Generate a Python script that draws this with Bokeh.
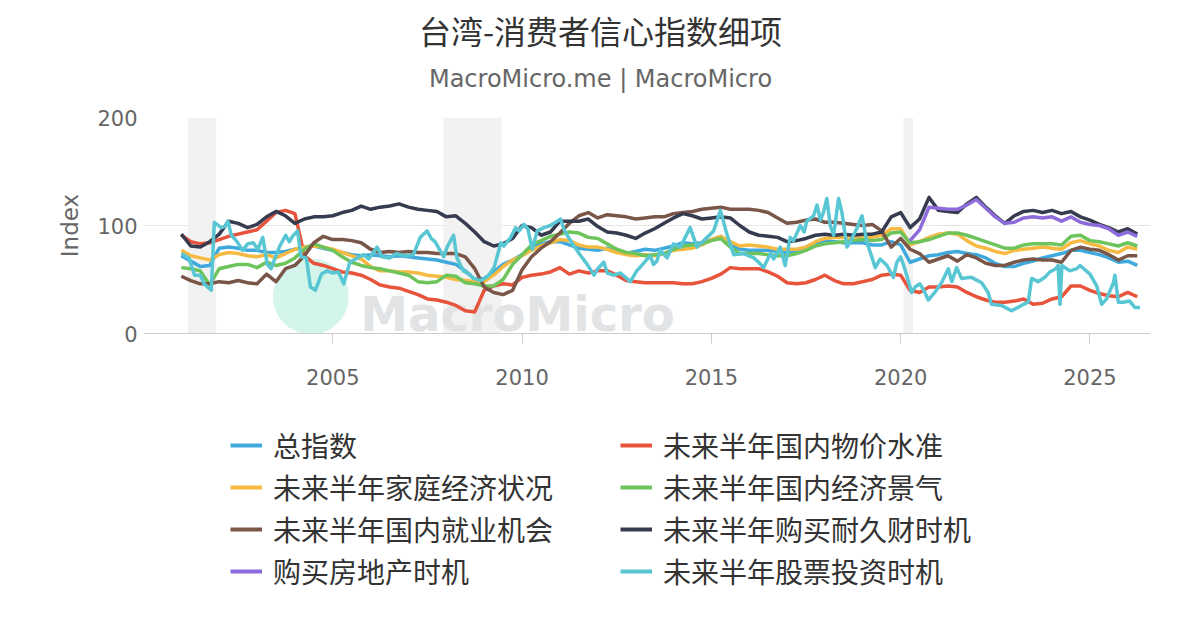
from bokeh.plotting import figure
from bokeh.layouts import column
from bokeh.models import (Range1d, FixedTicker, BoxAnnotation, Legend, LegendItem, Label)
from bokeh.embed import file_html
from bokeh.resources import INLINE

# ---------------- data (quarterly, first point = 2001 Q1) ----------------
first_quarter = 2001.0
quarter_step = 0.25

total_index = [
    72, 67, 62, 63,   79, 80, 79, 77,   77, 75, 75, 76,   78, 80, 81, 79,
    77, 75, 73, 72,   73, 72, 71, 72,   71, 70, 69, 68,   66, 64, 58, 50,
    51, 57, 64, 68,   73, 79, 83, 85,   85, 82, 79, 78,   77, 79, 76, 74,
    76, 78, 77, 79,   81, 84, 83, 84,   87, 90, 82, 78,   77, 77, 77, 76,
    75, 77, 80, 84,   86, 85, 84, 84,   84, 82, 82, 85,   82, 66, 69, 72,
    73, 75, 76, 74,   73, 70, 65, 62,   62, 65, 67, 70,   72, 74, 77, 77,
    75, 73, 70, 66,   67, 63]
prices = [
    91, 85, 83, 84,   87, 90, 92, 94,   96, 104, 112, 114, 111, 72, 65, 63,
    60, 57, 56, 54,   50, 45, 43, 42,   39, 36, 32, 31,   29, 26, 21, 20,
    40, 44, 46, 45,   52, 54, 55, 57,   61, 55, 58, 56,   58, 58, 54, 49,
    48, 47, 47, 47,   47, 46, 46, 48,   51, 55, 61, 60,   60, 60, 57, 53,
    47, 46, 47, 50,   54, 49, 46, 46,   48, 50, 54, 55,   54, 40, 38, 43,
    43, 44, 43, 38,   34, 31, 29, 29,   30, 32, 27, 28,   32, 34, 44, 44,
    40, 37, 35, 34,   38, 34]
household = [
    77, 72, 70, 68,   73, 75, 74, 72,   71, 73, 70, 74,   78, 80, 81, 80,
    78, 75, 72, 69,   62, 58, 58, 57,   57, 56, 54, 53,   52, 50, 49, 48,
    48, 54, 62, 68,   72, 77, 81, 84,   87, 86, 82, 80,   80, 78, 75, 73,
    72, 73, 72, 74,   77, 78, 79, 82,   87, 90, 85, 81,   82, 81, 80, 78,
    78, 78, 80, 85,   88, 89, 89, 88,   89, 89, 91, 97,   97, 82, 85, 89,
    92, 93, 92, 86,   81, 79, 76, 74,   77, 78, 79, 80,   79, 78, 84, 86,
    83, 81, 77, 75,   80, 78]
economy = [
    61, 60, 58, 45,   60, 62, 64, 64,   61, 66, 63, 65,   70, 78, 83, 80,
    77, 71, 66, 63,   61, 60, 58, 56,   54, 48, 47, 48,   54, 53, 47, 46,
    44, 44, 50, 64,   73, 82, 86, 90,   92, 94, 93, 89,   88, 83, 78, 75,
    74, 72, 73, 74,   78, 81, 82, 83,   86, 88, 80, 74,   74, 74, 73, 72,
    72, 74, 77, 81,   83, 84, 85, 86,   87, 86, 87, 93,   94, 84, 85, 87,
    90, 93, 93, 91,   88, 85, 82, 79,   79, 82, 83, 83,   83, 82, 90, 91,
    86, 85, 83, 81,   84, 81]
jobs = [
    53, 49, 46, 46,   48, 47, 49, 47,   46, 55, 48, 60,   63, 72, 84, 90,
    87, 87, 86, 84,   78, 75, 76, 75,   76, 75, 75, 74,   74, 74, 71, 60,
    43, 38, 36, 40,   59, 71, 79, 85,   93, 102, 109, 112, 107, 110, 109, 108,
    106, 107, 108, 108, 111, 112, 113, 115, 116, 117, 115, 115, 115, 114, 112, 107,
    102, 103, 105, 106, 103, 103, 102, 101, 100, 101, 95, 80, 88, 78, 74, 66,
    69, 72, 67, 73,   70, 65, 63, 63,   66, 68, 69, 68,   68, 66, 77, 80,
    78, 77, 73, 68,   72, 72]
durables = [
    92, 81, 80, 85,   92, 104, 102, 98, 101, 108, 113, 109, 102, 106, 108, 108,
    109, 112, 114, 118, 115, 117, 118, 120, 117, 115, 114, 113, 108, 109, 102, 94,
    85, 81, 83, 88,   100, 98, 91, 94,  104, 104, 104, 106, 99, 94, 93, 91,
    88, 93, 97, 102,  107, 111, 109, 106, 107, 108, 107, 100, 94, 91, 90, 89,
    85, 86, 88, 91,   92, 91, 92, 91,   92, 92, 94, 108,  112, 98, 106, 126,
    114, 113, 112, 120, 126, 117, 109, 102, 109, 113, 114, 112, 114, 111, 113, 108,
    105, 101, 98, 94,  97, 92]
realestate_start = 2020.25
realestate = [
    86, 96, 117,
    116, 115, 115, 119, 124, 116, 108, 102, 103, 107, 108, 107,
    108, 104, 108, 103, 101, 100, 97, 91,  94, 90]
stocks_t = [
    2001.0, 2001.1, 2001.2, 2001.35, 2001.5, 2001.6, 2001.79, 2001.87, 2002.05, 2002.15,
    2002.23, 2002.32, 2002.45, 2002.62, 2002.75, 2002.9, 2003.02, 2003.15, 2003.27, 2003.37,
    2003.5, 2003.6, 2003.76, 2003.85, 2003.94, 2004.07, 2004.16, 2004.3, 2004.41, 2004.54,
    2004.7, 2004.85, 2005.0, 2005.15, 2005.29, 2005.45, 2005.6, 2005.81, 2005.95, 2006.17,
    2006.3, 2006.5, 2006.69, 2006.9, 2007.13, 2007.31, 2007.49, 2007.6, 2007.7, 2007.93,
    2008.02, 2008.19, 2008.28, 2008.45, 2008.6, 2008.72, 2008.91, 2009.1, 2009.26, 2009.44,
    2009.52, 2009.7, 2009.83, 2009.92, 2010.05, 2010.15, 2010.27, 2010.4, 2010.58, 2010.75,
    2010.93, 2011.02, 2011.1, 2011.19, 2011.37, 2011.55, 2011.72, 2011.9, 2012.0, 2012.16,
    2012.25, 2012.42, 2012.6, 2012.86, 2013.03, 2013.21, 2013.38, 2013.47, 2013.56, 2013.65,
    2013.83, 2014.0, 2014.18, 2014.44, 2014.62, 2014.8, 2015.06, 2015.24, 2015.41, 2015.59,
    2015.85, 2016.12, 2016.25, 2016.38, 2016.56, 2016.65, 2016.82, 2016.95, 2017.08, 2017.17,
    2017.35, 2017.45, 2017.52, 2017.7, 2017.79, 2017.88, 2017.96, 2018.05, 2018.14, 2018.23,
    2018.36, 2018.45, 2018.58, 2018.67, 2018.84, 2018.98, 2019.11, 2019.2, 2019.33, 2019.46,
    2019.64, 2019.81, 2019.9, 2020.0, 2020.08, 2020.16, 2020.29, 2020.38, 2020.51, 2020.64,
    2020.73, 2020.9, 2021.08, 2021.26, 2021.35, 2021.48, 2021.61, 2021.87, 2022.14, 2022.31,
    2022.4, 2022.66, 2022.93, 2023.19, 2023.37, 2023.46, 2023.63, 2023.81, 2023.94, 2024.1,
    2024.16, 2024.21, 2024.26, 2024.47, 2024.65, 2024.74, 2025.0, 2025.18, 2025.31, 2025.44,
    2025.62, 2025.66, 2025.75, 2025.88, 2026.05, 2026.19, 2026.32]
stocks_v = [
    74, 72, 70, 54, 54, 46, 40, 103, 98, 99,
    104, 91, 86, 77, 83, 84, 78, 89, 64, 60,
    72, 81, 91, 85, 90, 95, 71, 70, 43, 40,
    55, 58, 56, 57, 46, 66, 69, 73, 69, 80,
    71, 70, 74, 72, 73, 89, 95, 88, 85, 71,
    80, 91, 70, 58, 55, 51, 49, 53, 61, 84,
    81, 89, 98, 95, 101, 97, 78, 95, 98, 100,
    104, 106, 97, 91, 81, 72, 64, 54, 60, 66,
    56, 54, 56, 48, 58, 65, 72, 64, 67, 77,
    70, 83, 80, 98, 80, 86, 95, 114, 92, 73,
    74, 70, 66, 61, 74, 69, 80, 63, 89, 86,
    100, 94, 104, 109, 119, 105, 112, 125, 100, 91,
    125, 112, 80, 85, 97, 109, 84, 75, 61, 69,
    63, 52, 66, 71, 63, 54, 38, 43, 46, 38,
    31, 38, 47, 60, 48, 61, 51, 52, 47, 38,
    27, 26, 21, 26, 29, 51, 48, 52, 57, 60,
    63, 27, 63, 58, 60, 63, 55, 44, 27, 32,
    47, 54, 29, 29, 30, 24, 24]

series_names = ["总指数", "未来半年国内物价水准", "未来半年家庭经济状况", "未来半年国内经济景气",
                "未来半年国内就业机会", "未来半年购买耐久财时机", "购买房地产时机", "未来半年股票投资时机"]
series_colors = ["#3FA9DD", "#E8533C", "#F6BA42", "#6DC45B",
                 "#7A5649", "#363B4F", "#8D6BDB", "#58C6D3"]

recessions = [(2001.17, 2001.92), (2007.92, 2009.46), (2020.08, 2020.33)]
year_ticks = [2005, 2010, 2015, 2020, 2025]
value_ticks = [0, 100, 200]

title_text = "台湾-消费者信心指数细项"
subtitle_text = "MacroMicro.me | MacroMicro"


def quarters(start, n):
    return [start + quarter_step * i for i in range(n)]


xs_list = [quarters(first_quarter, len(total_index)), quarters(first_quarter, len(prices)),
           quarters(first_quarter, len(household)), quarters(first_quarter, len(economy)),
           quarters(first_quarter, len(jobs)), quarters(first_quarter, len(durables)),
           quarters(realestate_start, len(realestate)), stocks_t]
ys_list = [total_index, prices, household, economy, jobs, durables, realestate, stocks_v]

W = 1200
H_TOP, H_MAIN, H_LEG = 100, 300, 230
FRAME_L, FRAME_R = 143, 1150   # page pixels of the plot frame (column aligns frames)


def blank(height):
    f = figure(width=W, height=height, output_backend="svg", toolbar_location=None,
               x_range=Range1d(FRAME_L, FRAME_R), y_range=Range1d(0, height),
               x_axis_location=None, y_axis_location=None,
               min_border_left=FRAME_L, min_border_right=W - FRAME_R,
               min_border_top=0, min_border_bottom=0)
    f.grid.visible = False
    f.outline_line_color = None
    f.background_fill_color = "white"
    f.border_fill_color = "white"
    return f


# ---------------- title strip ----------------
top = blank(H_TOP)
top.add_layout(Label(x=600, y=H_TOP - 29, text=title_text, text_font="Noto Sans CJK SC",
                     text_font_size="32px", text_color="#333333", text_align="center",
                     text_baseline="middle"))
top.add_layout(Label(x=600, y=H_TOP - 78, text=subtitle_text, text_font="DejaVu Sans",
                     text_font_size="24px", text_color="#666666", text_align="center",
                     text_baseline="middle"))

# ---------------- main chart ----------------
p = figure(width=W, height=H_MAIN, output_backend="svg", toolbar_location=None,
           x_range=Range1d(2000.0, 2026.6), y_range=Range1d(0, 200),
           min_border_left=FRAME_L, min_border_right=W - FRAME_R, min_border_top=17,
           min_border_bottom=67)
p.outline_line_color = None
p.background_fill_color = "white"
p.border_fill_color = "white"

for a, b in recessions:
    p.add_layout(BoxAnnotation(left=a, right=b, fill_color="#F2F2F2", fill_alpha=1.0,
                               line_color=None, level="underlay"))

# watermark
wm = p.scatter(x=[2004.42], y=[34.3], size=76, fill_color="#D3F5EC", line_color=None)
wm.level = "underlay"
p.add_layout(Label(x=374, y=20, x_units="screen", y_units="screen", text="MacroMicro",
                   text_font="DejaVu Sans", text_font_style="bold", text_font_size="48px",
                   text_color="#E2E3E5", text_align="center", text_baseline="alphabetic",
                   level="underlay"))

p.xgrid.visible = False
p.ygrid.grid_line_color = "#E6E6E6"
p.ygrid.grid_line_width = 1
p.xaxis.ticker = FixedTicker(ticks=year_ticks)
p.yaxis.ticker = FixedTicker(ticks=value_ticks)
p.xaxis.axis_line_color = "#CCCCCC"
p.xaxis.major_tick_line_color = "#CCCCCC"
p.xaxis.major_tick_out = 10
p.xaxis.major_tick_in = 0
p.xaxis.minor_tick_line_color = None
p.xaxis.major_label_standoff = 25
p.yaxis.axis_line_color = None
p.yaxis.major_tick_line_color = None
p.yaxis.minor_tick_line_color = None
p.yaxis.major_tick_out = 0
p.yaxis.major_tick_in = 0
p.yaxis.major_label_standoff = 6
for ax in (p.xaxis, p.yaxis):
    ax.major_label_text_font = "DejaVu Sans"
    ax.major_label_text_font_size = "21px"
    ax.major_label_text_color = "#666666"
p.yaxis.axis_label = "Index"
p.yaxis.axis_label_text_font = "DejaVu Sans"
p.yaxis.axis_label_text_font_size = "23px"
p.yaxis.axis_label_text_font_style = "normal"
p.yaxis.axis_label_text_color = "#666666"
p.yaxis.axis_label_standoff = 11

for xs, ys, c in zip(xs_list, ys_list, series_colors):
    p.line(xs, ys, line_color=c, line_width=3.5, line_join="round")

# ---------------- legend strip ----------------
leg = blank(H_LEG)
nan = float("nan")
leg_renderers = [leg.line(x=[nan], y=[nan], line_color=c, line_width=4) for c in series_colors]
legend = Legend(items=[LegendItem(label=n, renderers=[r]) for n, r in zip(series_names, leg_renderers)],
                location=(230 - FRAME_L, 39), orientation="horizontal", ncols=2,
                label_text_font="Noto Sans CJK SC", label_text_font_size="28px",
                label_text_color="#333333", glyph_width=32, glyph_height=20,
                label_standoff=11, spacing=2, label_width=345, padding=0, margin=0,
                border_line_color=None, background_fill_alpha=0)
leg.add_layout(legend, "center")

layout = column(top, p, leg, spacing=0)
open("out.html", "w").write(file_html(layout, INLINE))
